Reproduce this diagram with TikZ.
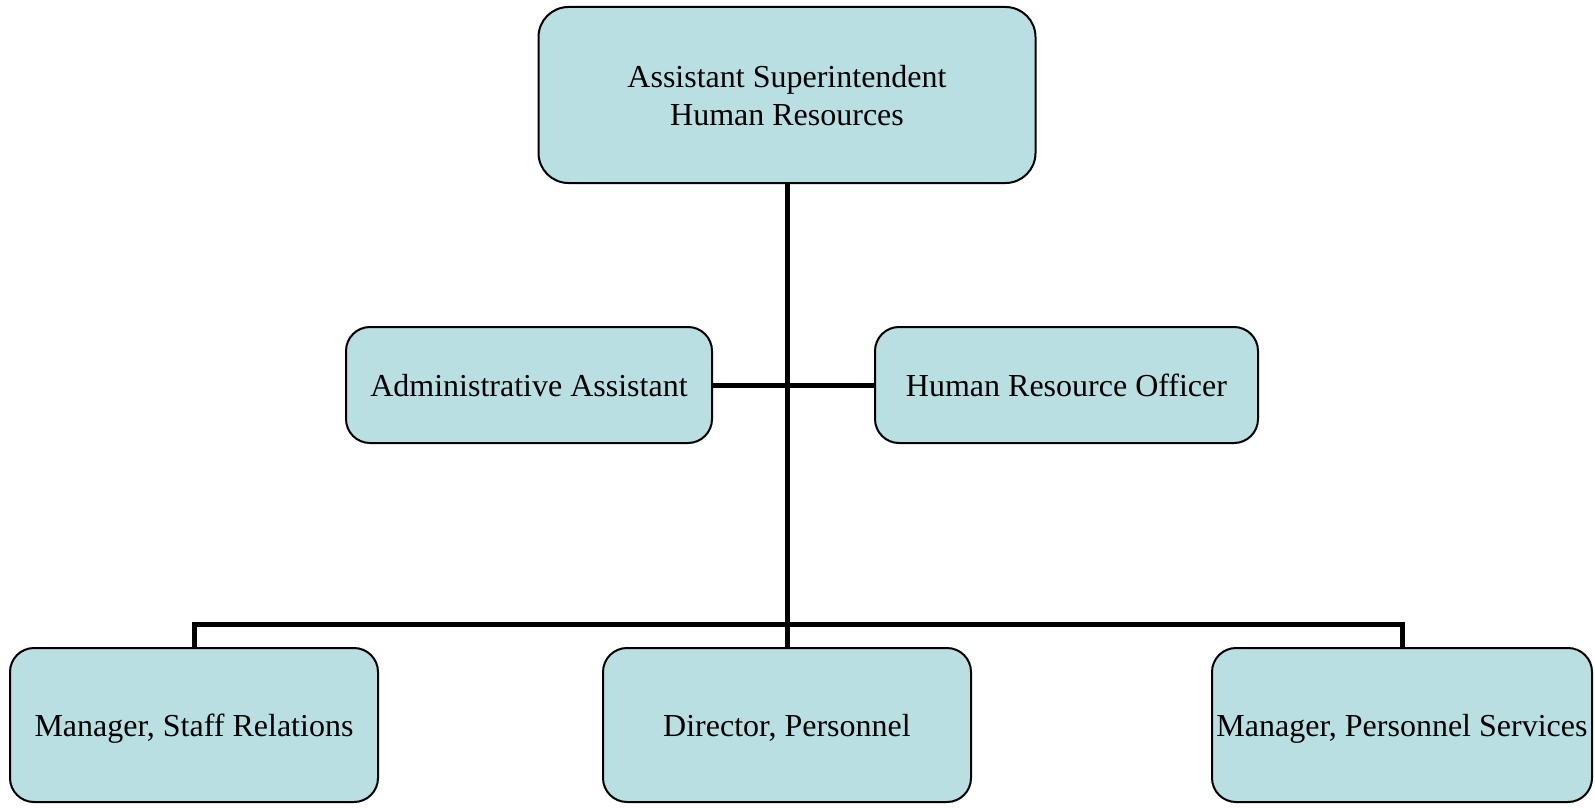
\documentclass[tikz,border=0pt]{standalone}
\usepackage{fontspec}
\setmainfont{Liberation Serif}
\usepackage{tikz}

\definecolor{boxfill}{RGB}{185,223,227}
\tikzset{
  post/.style={draw=black, line width=1pt, fill=boxfill, rounded corners=12pt,
    align=center, inner sep=0pt, text depth=0pt, font=\fontsize{16}{19}\selectfont},
  link/.style={line width=2.5pt}
}

\begin{document}
\begin{tikzpicture}[x=0.5pt,y=-0.5pt]
\useasboundingbox (0,0) rectangle (1595,808);
\node[post, rounded corners=15pt, minimum width=248.5pt, minimum height=88pt] (sup) at (787,95) {Assistant Superintendent\\Human Resources};
\node[post, minimum width=183pt, minimum height=58pt] (admin) at (529,385) {Administrative Assistant};
\node[post, minimum width=191.5pt, minimum height=58pt] (hro) at (1066.5,385) {Human Resource Officer};
\node[post, minimum width=184pt, minimum height=77pt] (msr) at (194,725) {Manager, Staff Relations};
\node[post, minimum width=184pt, minimum height=77pt] (dir) at (787,725) {Director, Personnel};
\node[post, minimum width=190pt, minimum height=77pt] (mps) at (1402,725) {Manager, Personnel Services};
\coordinate (bus) at (787,624);
\draw[link] (sup.south) -- (dir.north);
\draw[link] (admin.east) -- (hro.west);
\draw[link] (msr.north) |- (bus) -| (mps.north);
\end{tikzpicture}
\end{document}
